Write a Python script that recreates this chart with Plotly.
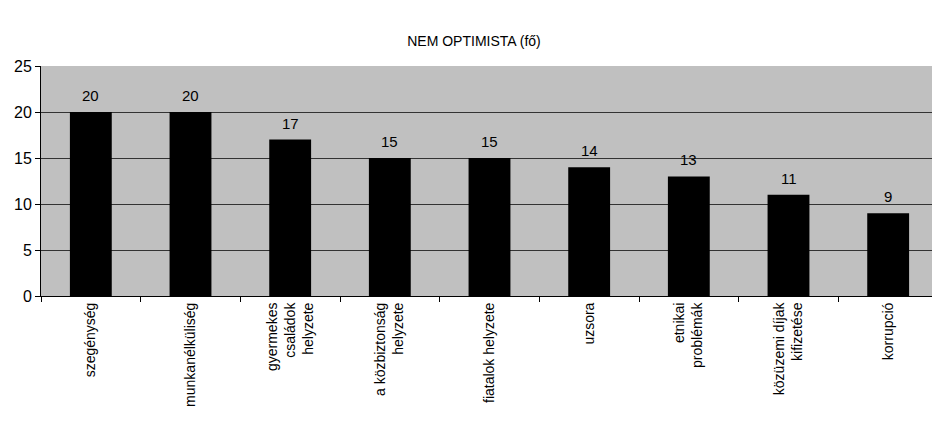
import plotly.graph_objects as go

categories = [
    "szegénység",
    "munkanélküliség",
    "gyermekes<br>családok<br>helyzete",
    "a közbiztonság<br>helyzete",
    "fiatalok helyzete",
    "uzsora",
    "etnikai<br>problémák",
    "közüzemi díjak<br>kifizetése",
    "korrupció",
]
values = [20, 20, 17, 15, 15, 14, 13, 11, 9]

fig = go.Figure(
    go.Bar(
        x=categories,
        y=values,
        marker=dict(color="black", line=dict(width=0)),
    )
)

# value labels sit a little higher above the bars than plotly's "outside" text
for cat, val in zip(categories, values):
    fig.add_annotation(
        x=cat, y=val, text=str(val), showarrow=False,
        yanchor="bottom", yshift=6, font=dict(size=15, color="black"),
    )

# the page body adds an 8px offset, so the figure is trimmed by that much
fig.update_layout(
    width=932,
    height=425,
    margin=dict(l=33, r=2, t=58, b=137),
    paper_bgcolor="white",
    plot_bgcolor="#C0C0C0",
    font=dict(family="Liberation Sans, Arial, sans-serif", color="black", size=14),
    title=dict(text="NEM OPTIMISTA (fő)", x=0.5, xanchor="center", y=0.922, yanchor="middle",
               font=dict(size=14)),
    bargap=0.58,
    showlegend=False,
)
fig.update_xaxes(
    tickangle=-90,
    tickson="boundaries",
    ticks="outside",
    ticklen=5,
    tickcolor="black",
    showline=True,
    linecolor="black",
    linewidth=1,
    showgrid=False,
    automargin=False,
    tickfont=dict(size=14),
)
fig.update_yaxes(
    range=[0, 25],
    dtick=5,
    ticks="outside",
    ticklen=5,
    tickcolor="black",
    showline=True,
    linecolor="black",
    linewidth=1,
    gridcolor="#333333",
    gridwidth=1,
    zeroline=False,
    automargin=False,
    tickfont=dict(size=16),
)

fig.write_html("out.html")
